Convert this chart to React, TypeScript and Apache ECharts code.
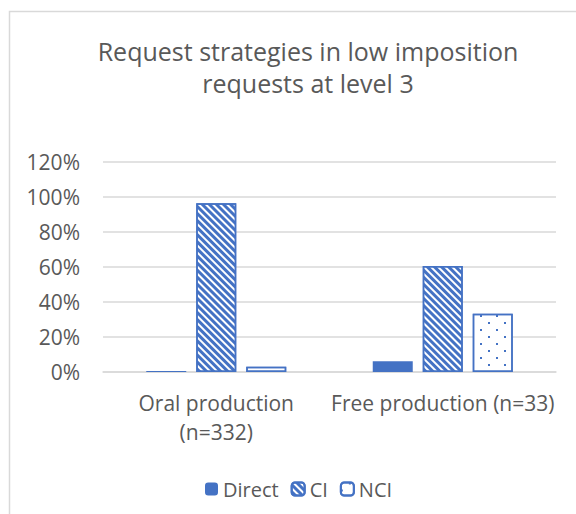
import React, { useEffect, useRef } from "react";
import * as echarts from "echarts";

const titleText = "Request strategies in low imposition\nrequests at level 3";
const categories = ["Oral production\n(n=332)", "Free production (n=33)"];
const seriesNames = ["Direct", "CI", "NCI"];
const directValues = [0.006, 0.061];
const ciValues = [0.964, 0.606];
const nciValues = [0.03, 0.333];
const yTicks = [0, 0.2, 0.4, 0.6, 0.8, 1.0, 1.2];

const BLUE = "#4472C4";
const TEXT = "#595959";
const FONT = "Open Sans";

export default function App() {
  const ref = useRef<HTMLDivElement>(null);
  useEffect(() => {
    document.body.style.margin = "0";
    const chart = echarts.init(ref.current!, null, { renderer: "svg" });
    chart.setOption({
      animation: false,
      backgroundColor: "#fff",
      title: {
        text: titleText,
        left: 303,
        top: 30,
        textAlign: "center",
        textStyle: {
          fontFamily: FONT,
          fontSize: 25,
          fontWeight: "normal",
          color: TEXT,
          lineHeight: 32,
        },
      },
      graphic: [
        {
          type: "rect",
          shape: { x: 9.5, y: 11.5, width: 620, height: 620 },
          style: { fill: "none", stroke: "#d9d9d9", lineWidth: 1.5 },
          silent: true,
        },
      ],
      grid: { left: 103, right: 20, top: 162, bottom: 142 },
      legend: {
        left: 200,
        top: 474,
        itemWidth: 13,
        itemHeight: 13,
        itemGap: 12,
        textStyle: { fontFamily: FONT, fontSize: 20, color: TEXT },
        data: seriesNames,
      },
      xAxis: {
        type: "category",
        data: categories,
        axisLine: { lineStyle: { color: "#d9d9d9", width: 1.5 } },
        axisTick: { show: false },
        axisLabel: {
          fontFamily: FONT,
          fontSize: 21,
          color: TEXT,
          lineHeight: 29,
          margin: 16,
          interval: 0,
        },
      },
      yAxis: {
        type: "value",
        min: yTicks[0],
        max: yTicks[yTicks.length - 1],
        interval: 0.2,
        axisLine: { show: false },
        axisTick: { show: false },
        splitLine: { lineStyle: { color: "#d9d9d9", width: 1.5 } },
        axisLabel: {
          fontFamily: FONT,
          fontSize: 21,
          color: TEXT,
          margin: 23,
          formatter: (v: number) => Math.round(v * 100) + "%",
        },
      },
      series: [
        {
          name: seriesNames[0],
          type: "bar",
          data: directValues,
          barWidth: 40,
          barGap: "25%",
          itemStyle: { color: BLUE },
        },
        {
          name: seriesNames[1],
          type: "bar",
          data: ciValues,
          barWidth: 40,
          barGap: "25%",
          itemStyle: {
            color: "#fff",
            borderColor: BLUE,
            borderWidth: 1.5,
            decal: {
              symbol: "rect",
              symbolSize: 1,
              color: BLUE,
              dashArrayX: [1, 0],
              dashArrayY: [2.5, 2],
              rotation: Math.PI / 4,
            },
          },
        },
        {
          name: seriesNames[2],
          type: "bar",
          data: nciValues,
          barWidth: 40,
          barGap: "25%",
          itemStyle: {
            color: "#fff",
            borderColor: BLUE,
            borderWidth: 1.5,
            decal: {
              symbol: "rect",
              symbolSize: 1,
              color: BLUE,
              dashArrayX: [
                [2, 14],
                [0, 8, 2, 6],
              ],
              dashArrayY: [2, 5],
              rotation: 0,
            },
          },
        },
      ],
    });
    return () => chart.dispose();
  }, []);
  return <div ref={ref} style={{ width: 576, height: 514 }} />;
}
